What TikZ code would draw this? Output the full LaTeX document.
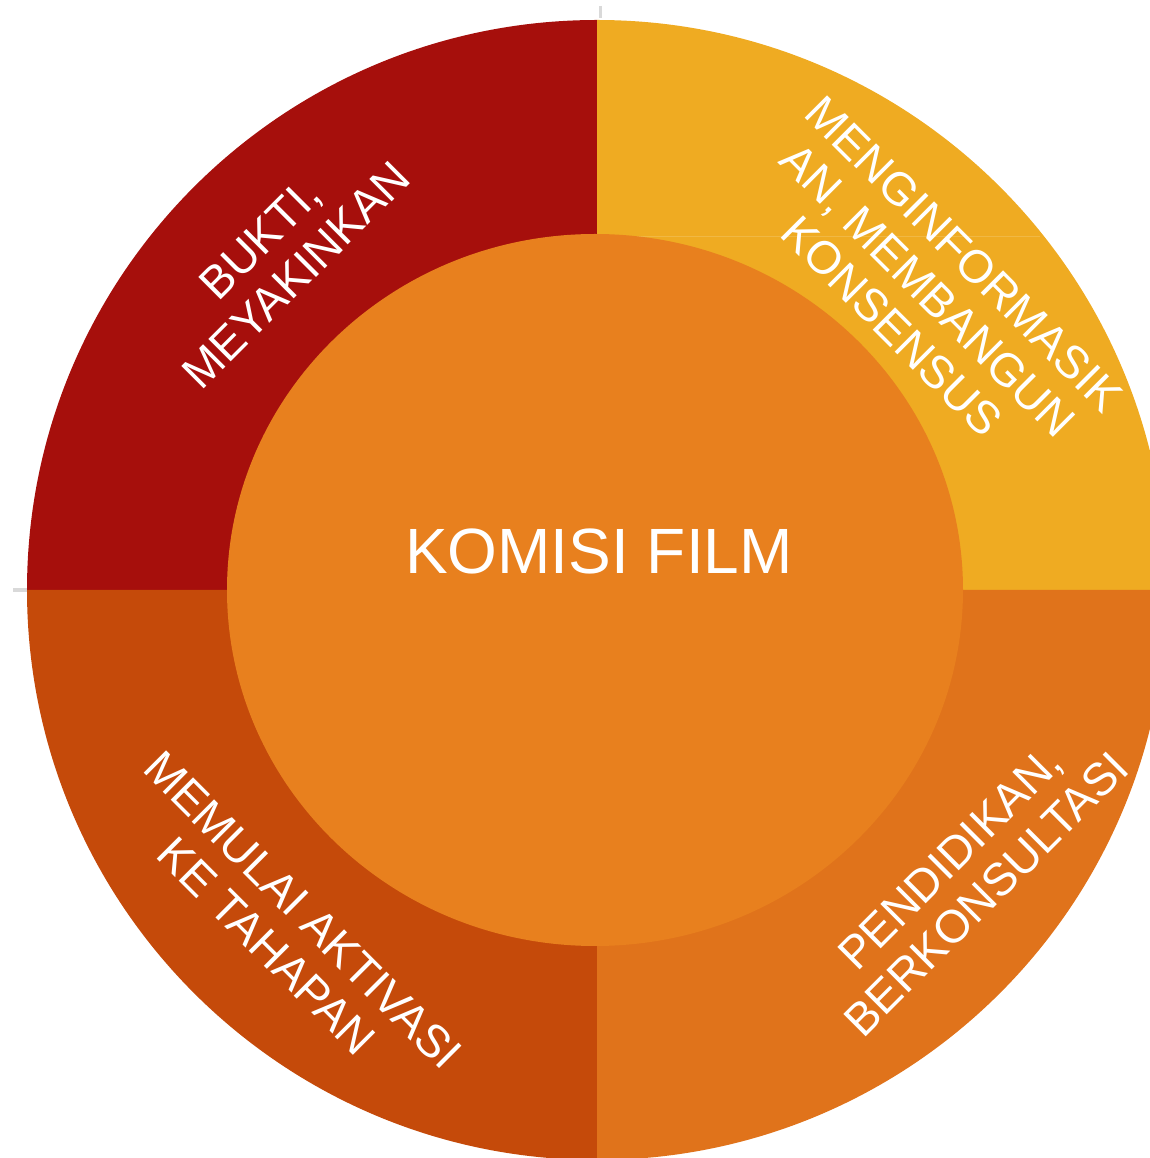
\documentclass[tikz,border=0pt]{standalone}
\usepackage{fontspec}
\setmainfont{Liberation Sans}
\usepackage{xcolor}
\usetikzlibrary{positioning}

\definecolor{bukticol}{HTML}{A60F0C}
\definecolor{infocol}{HTML}{EFAB22}
\definecolor{aktivcol}{HTML}{C54A0A}
\definecolor{didikcol}{HTML}{E0731B}
\definecolor{komisicol}{HTML}{E8801E}
\definecolor{tickcol}{HTML}{D9D9D9}

\begin{document}
\begin{tikzpicture}[x=0.5pt, y=0.5pt,
    ringtext/.style={text=white, align=center, inner sep=0pt,
        font=\fontsize{23}{25.5}\selectfont}]
    \useasboundingbox (0,0) rectangle (1150,1158);
    \clip (0,0) rectangle (1150,1158);

    % Grey ticks at the top and on the left
    \draw[tickcol, line width=1.5pt] (600,1152) -- (600,1140);
    \draw[tickcol, line width=2pt] (13,568) -- (31,568);

    % Four quadrants of the outer ring
    \coordinate (c) at (597,568);
    \foreach \a/\col in {90/bukticol, 0/infocol, 180/aktivcol, 270/didikcol} {
        \fill[\col] (c) -- ++(\a:570) arc[start angle=\a, delta angle=90, radius=570] -- cycle;
    }
    \draw[infocol!85!white, line width=0.5pt] (597,921) -- (1040,921);

    % Inner disc
    \fill[komisicol] (595,568) ellipse[x radius=368, y radius=356];
    \node[text=white, inner sep=0pt, font=\fontsize{32}{36}\selectfont] (komisi) at (599,606.5) {KOMISI FILM};

    % Labels on the ring
    \node[ringtext, rotate=45] (bukti) at (278,901) {BUKTI,\\MEYAKINKAN};
    \node[ringtext, rotate=-45] (informasi) at (928,868) {MENGINFORMASIK\\AN, MEMBANGUN\\KONSENSUS};
    \node[ringtext, rotate=-45] (aktivasi) at (285,230) {MEMULAI AKTIVASI\\KE TAHAPAN};
    \node[ringtext, rotate=45] (pendidikan) at (968,282) {PENDIDIKAN,\\BERKONSULTASI};
\end{tikzpicture}
\end{document}
